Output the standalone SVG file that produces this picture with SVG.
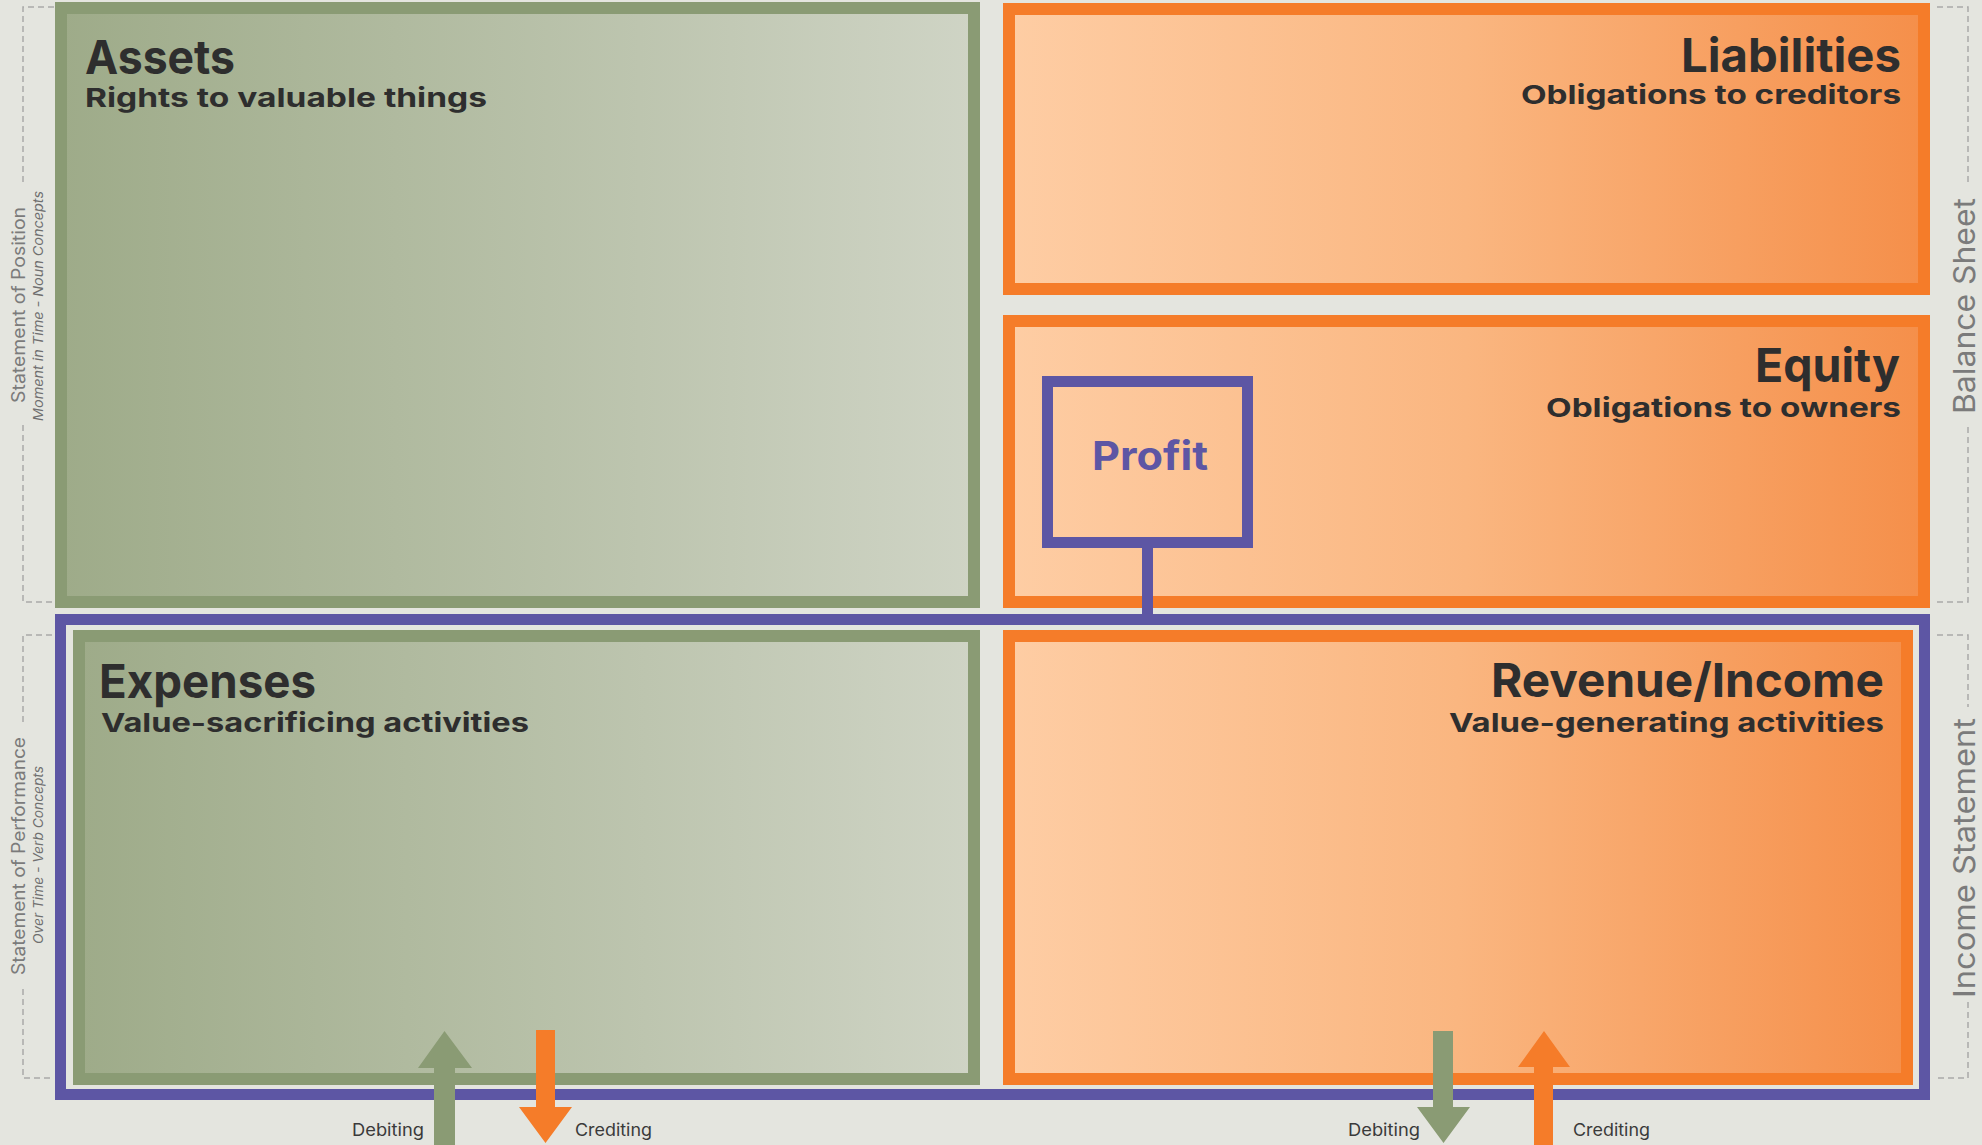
<svg xmlns="http://www.w3.org/2000/svg" width="1982" height="1145" viewBox="0 0 1982 1145">
<defs>
<linearGradient id="gGreen" x1="0" y1="0" x2="1" y2="0">
<stop offset="0" stop-color="#9eab89"/>
<stop offset="1" stop-color="#cfd4c5"/>
</linearGradient>
<linearGradient id="gOrange" x1="0" y1="0" x2="1" y2="0">
<stop offset="0" stop-color="#fecda4"/>
<stop offset="0.5" stop-color="#fab680"/>
<stop offset="1" stop-color="#f58f4a"/>
</linearGradient>
<style>
.green{fill:url(#gGreen);stroke:#8a9b74;stroke-width:12}
.orange{fill:url(#gOrange);stroke:#f57c29;stroke-width:12}
.title{font-family:Inter,"Liberation Sans",sans-serif;font-weight:700;font-size:47px;fill:#2e2e2e}
.sub{font-family:Inter,"Liberation Sans",sans-serif;font-weight:700;font-size:26px;fill:#2e2e2e}
.side{font-family:Inter,"Liberation Sans",sans-serif;font-size:18px;fill:#7b7b7b}
.sideit{font-family:Inter,"Liberation Sans",sans-serif;font-size:13px;font-style:italic;fill:#6f6f6f}
.big{font-family:Inter,"Liberation Sans",sans-serif;font-size:30px;fill:#7b7b7b}
.dash{fill:none;stroke:#a9a9a9;stroke-width:1.5;stroke-dasharray:6 4}
.lbl{font-family:Inter,"Liberation Sans",sans-serif;font-size:17px;fill:#3a3a3a}
.purple{fill:none;stroke:#5d56a4;stroke-width:11}
</style>
</defs>
<rect width="1982" height="1145" fill="#e4e5df"/>

<g id="brackets">
<path class="dash" d="M54,7 H23 V183 M23,425 V602 H52"/>
<path class="dash" d="M52,635 H23 V725 M23,989 V1078 H52"/>
<path class="dash" d="M1937,7 H1968 V183 M1968,427 V602 H1937"/>
<path class="dash" d="M1937,635 H1968 V707 M1968,1002 V1078 H1937"/>
</g>

<g id="side-labels">
<text class="side" transform="translate(25,305) rotate(-90)" text-anchor="middle" textLength="196" lengthAdjust="spacingAndGlyphs">Statement of Position</text>
<text class="sideit" transform="translate(43,306) rotate(-90)" text-anchor="middle" textLength="230" lengthAdjust="spacingAndGlyphs">Moment in Time - Noun Concepts</text>
<text class="side" transform="translate(25,856) rotate(-90)" text-anchor="middle" textLength="238" lengthAdjust="spacingAndGlyphs">Statement of Performance</text>
<text class="sideit" transform="translate(43,855) rotate(-90)" text-anchor="middle" textLength="178" lengthAdjust="spacingAndGlyphs">Over Time - Verb Concepts</text>
<text class="big" transform="translate(1975,306) rotate(-90)" text-anchor="middle" textLength="216" lengthAdjust="spacingAndGlyphs">Balance Sheet</text>
<text class="big" transform="translate(1975,858) rotate(-90)" text-anchor="middle" textLength="280" lengthAdjust="spacingAndGlyphs">Income Statement</text>
</g>

<g id="assets">
<rect class="green" x="61" y="8" width="913" height="594"/>
<text class="title" x="85" y="74" textLength="150" lengthAdjust="spacingAndGlyphs">Assets</text>
<text class="sub" x="85" y="107" textLength="402" lengthAdjust="spacingAndGlyphs">Rights to valuable things</text>
</g>

<g id="liabilities">
<rect class="orange" x="1009" y="9" width="915" height="280"/>
<text class="title" x="1901" y="72" text-anchor="end" textLength="220" lengthAdjust="spacingAndGlyphs">Liabilities</text>
<text class="sub" x="1901" y="104" text-anchor="end" textLength="380" lengthAdjust="spacingAndGlyphs">Obligations to creditors</text>
</g>

<g id="equity">
<rect class="orange" x="1009" y="321" width="915" height="281"/>
<text class="title" x="1900" y="382" text-anchor="end" textLength="145" lengthAdjust="spacingAndGlyphs">Equity</text>
<text class="sub" x="1901" y="417" text-anchor="end" textLength="355" lengthAdjust="spacingAndGlyphs">Obligations to owners</text>
</g>

<g id="income-statement">
<rect class="purple" x="60.5" y="619.5" width="1864" height="475"/>
</g>

<g id="expenses">
<rect class="green" x="79" y="636" width="895" height="443"/>
<text class="title" x="99" y="698" textLength="217" lengthAdjust="spacingAndGlyphs">Expenses</text>
<text class="sub" x="101" y="732" textLength="428" lengthAdjust="spacingAndGlyphs">Value-sacrificing activities</text>
</g>

<g id="revenue">
<rect class="orange" x="1009" y="636" width="898" height="443"/>
<text class="title" x="1884" y="697" text-anchor="end" textLength="393" lengthAdjust="spacingAndGlyphs">Revenue/Income</text>
<text class="sub" x="1884" y="732" text-anchor="end" textLength="435" lengthAdjust="spacingAndGlyphs">Value-generating activities</text>
</g>

<g id="connectors">
<line x1="1147.5" y1="548" x2="1147.5" y2="619" stroke="#5d56a4" stroke-width="11"/>
</g>

<g id="profit">
<rect x="1047.5" y="381.5" width="200" height="161" fill="none" stroke="#5d56a4" stroke-width="11"/>
<text x="1150" y="470" text-anchor="middle" font-family="Inter,'Liberation Sans',sans-serif" font-weight="700" font-size="40" fill="#5d56a4" textLength="116" lengthAdjust="spacingAndGlyphs">Profit</text>
</g>

<g id="arrows">
<polygon fill="#8a9b74" points="444.5,1031 472,1068 455,1068 455,1145 434,1145 434,1068 418,1068"/>
<polygon fill="#f57c29" points="536,1030 555,1030 555,1107 572,1107 545.5,1143 519,1107 536,1107"/>
<polygon fill="#8a9b74" points="1433,1031 1453,1031 1453,1107 1470,1107 1443.5,1143 1417,1107 1433,1107"/>
<polygon fill="#f57c29" points="1544,1031 1570,1067 1553,1067 1553,1145 1534,1145 1534,1067 1518,1067"/>
<text class="lbl" x="352" y="1136" textLength="72" lengthAdjust="spacingAndGlyphs">Debiting</text>
<text class="lbl" x="575" y="1136" textLength="77" lengthAdjust="spacingAndGlyphs">Crediting</text>
<text class="lbl" x="1348" y="1136" textLength="72" lengthAdjust="spacingAndGlyphs">Debiting</text>
<text class="lbl" x="1573" y="1136" textLength="77" lengthAdjust="spacingAndGlyphs">Crediting</text>
</g>
</svg>
